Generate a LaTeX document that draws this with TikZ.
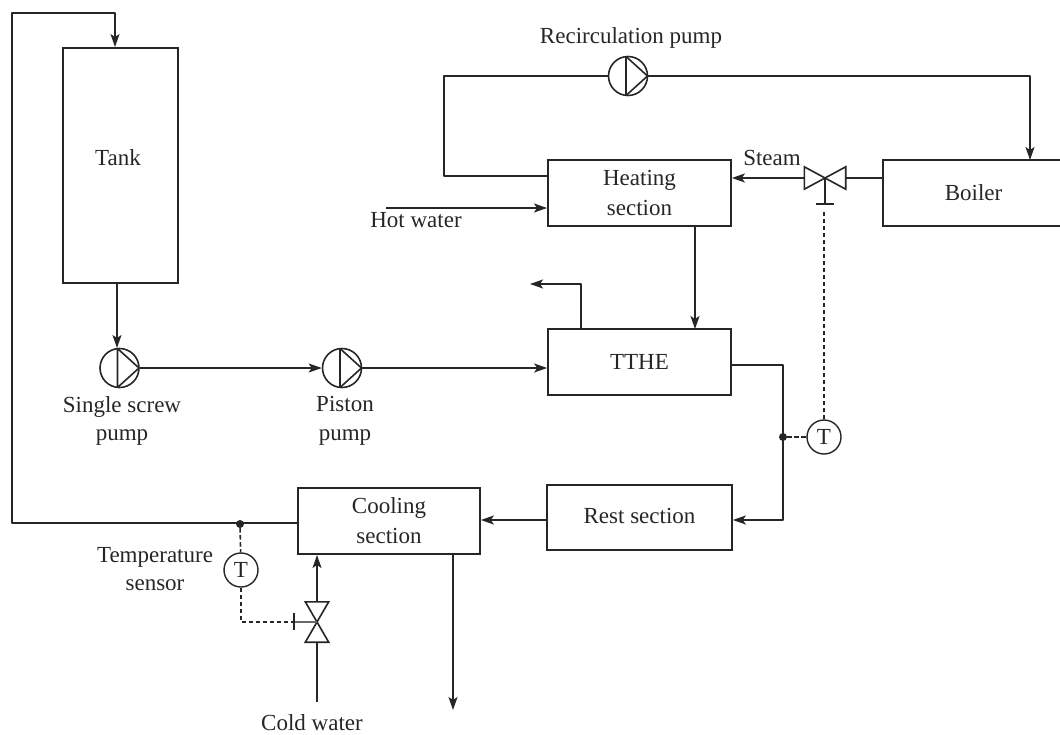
\documentclass[tikz,border=0pt]{standalone}
\usepackage{fontspec}
\setmainfont{Liberation Serif}
\usetikzlibrary{arrows.meta}
\definecolor{ink}{HTML}{262626}
\tikzset{
  pipe/.style={draw=ink,line width=1.7pt,line join=round},
  flow/.style={pipe,-{Stealth[length=13pt,width=9pt,inset=3pt]}},
  signal/.style={draw=ink,line width=1.6pt,dash pattern=on 4.5pt off 2.5pt},
  unitbox/.style={draw=ink,line width=1.7pt,rectangle,inner sep=0pt,align=center,text=ink,font=\fontsize{23}{30}\selectfont},
  label/.style={inner sep=0pt,align=center,text=ink,font=\fontsize{23}{28.5}\selectfont},
  pump/.style={draw=ink,line width=1.6pt,circle,minimum size=39pt,inner sep=0pt,
    path picture={\draw[ink,line width=1.6pt] ([xshift=-2pt]path picture bounding box.north) -- (path picture bounding box.east) -- ([xshift=-2pt]path picture bounding box.south) -- cycle;}},
  sensor/.style={draw=ink,line width=1.4pt,circle,minimum size=34pt,inner sep=0pt,text=ink,font=\fontsize{23}{24}\selectfont},
  junction/.style={fill=ink,circle,minimum size=8pt,inner sep=0pt},
  valvebody/.style={inner sep=0pt,rectangle},
  bowtie/.style={draw=ink,line width=1.6pt,line join=miter,fill=white},
}
\begin{document}
\begin{tikzpicture}[x=1pt,y=-1pt]
\useasboundingbox (0,0) rectangle (1060,734);
\clip (0,0) rectangle (1060,734);
% boxes
\node[unitbox,minimum width=115pt,minimum height=235pt,anchor=north west] (tank) at (62,47) {};
\node[label] at (118,158) (tanktext) {Tank};
\node[unitbox,minimum width=183pt,minimum height=66pt] (heat) at (639.5,193) {Heating\\section};
\node[unitbox,minimum width=183pt,minimum height=66pt] (tthe) at (639.5,362) {TTHE};
\node[unitbox,minimum width=185pt,minimum height=65pt] (rest) at (639.5,517.5) {\raisebox{2.5pt}{Rest section}};
\node[unitbox,minimum width=182pt,minimum height=66pt] (cool) at (389,521) {Cooling\\section};
\node[unitbox,minimum width=181pt,minimum height=66pt] (boil) at (973.5,193) {Boiler};
% pumps
\node[pump] (p1) at (119.5,368) {};
\node[pump] (p2) at (342,368) {};
\node[pump] (p3) at (628,76) {};
% sensors
\node[sensor] (t1) at (824,437) {T};
\node[sensor] (t2) at (241,570) {T};
\node[junction] (j1) at (783,437) {};
\node[junction] (j2) at (240,524) {};
% valves
\node[valvebody,minimum width=41pt,minimum height=22pt] (v1) at (825,178) {};
\node[valvebody,minimum width=23pt,minimum height=40pt] (v2) at (317,622) {};
% free ends
\coordinate (topleft) at (12,13);
\coordinate (topright) at (115,13);
\coordinate (tankin) at (115,47);
\coordinate (botleft) at (12,523);
\coordinate (coolin) at (298,523);
\coordinate (hotstart) at (386,208);
\coordinate (hotend) at (547,208);
\coordinate (ventA) at (581,329);
\coordinate (ventB) at (581,284);
\coordinate (ventC) at (530,284);
\coordinate (coldstart) at (317,702);
\coordinate (drainA) at (453,554);
\coordinate (drainB) at (453,710);
\coordinate (stemend) at (825,204);
\coordinate (tickL) at (816,204);
\coordinate (tickR) at (834,204);
\coordinate (sigtop) at (824,210);
\coordinate (tick2T) at (294,613);
\coordinate (tick2B) at (294,630);
\coordinate (tick2M) at (294,622);
\coordinate (sigcorner) at (241,622);
% main piping
\draw[flow] (cool.west |- coolin) -- (botleft) -- (topleft) -- (topright) -- (tankin);
\draw[flow] (117,282) -- (117,348);
\draw[flow] (p1.east) -- (p2.west);
\draw[flow] (p2.east) -- (tthe.west |- p2.east);
\draw[flow] (heat.south -| 695,0) -- (695,329);
\draw[flow] (ventA) -- (ventB) -- (ventC);
\draw[flow] (tthe.east |- 0,365) -- (783,365) -- (783,520) -- (rest.east |- 0,520);
\draw[flow] (rest.west |- 0,520) -- (cool.east |- 0,520);
\draw[flow] (drainA) -- (drainB);
\draw[pipe] (heat.west |- 0,176) -- (444,176) -- (444,76) -- (p3.west);
\draw[flow] (p3.east) -- (1030,76) -- (1030,160);
\draw[flow] (hotstart) -- (hotend);
\draw[pipe] (boil.west |- v1.east) -- (v1.east);
\draw[flow] (v1.west) -- (heat.east |- v1.west);
\draw[pipe] (coldstart) -- (v2.south);
\draw[flow] (v2.north) -- (317,555);
% signals
\draw[signal] (j1) -- (t1);
\draw[signal] (t1) -- (sigtop);
\draw[signal] (j2) -- (t2);
\draw[signal] (t2) -- (sigcorner) -- (tick2M);
% valve drawings
\draw[bowtie] (v1.north west) -- (v1.south east) -- (v1.north east) -- (v1.south west) -- cycle;
\draw[bowtie] (v2.north west) -- (v2.north east) -- (v2.south west) -- (v2.south east) -- cycle;
\draw[pipe,line width=1.3pt] (v1.center) -- (stemend);
\draw[pipe] (tickL) -- (tickR);
\draw[pipe,line width=1.2pt,draw=ink!70] (tick2M) -- (v2.center);
\draw[pipe,line width=1.3pt] (tick2T) -- (tick2B);
% labels
\node[label] (l1) at (631,38) {Recirculation pump};
\node[label] (l2) at (772,158) {Steam};
\node[label] (l3) at (416,220) {Hot water};
\node[label] (l4) at (122,421) {Single screw\\pump};
\node[label] (l5) at (345,421) {Piston\\pump};
\node[label] (l6) at (155,569) {Temperature\\sensor};
\node[label] (l7) at (312,723) {Cold water};
\end{tikzpicture}
\end{document}
